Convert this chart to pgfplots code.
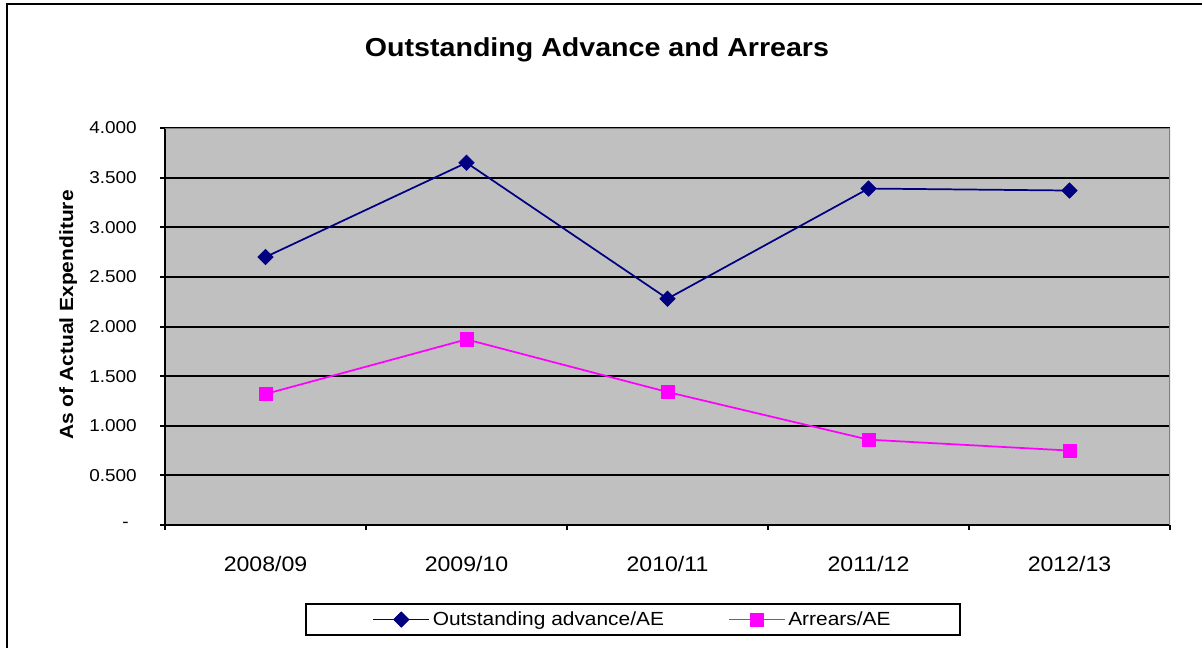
\documentclass[border=0pt]{standalone}
\usepackage{pgfplots}
\pgfplotsset{compat=1.18}
\usepackage{fontspec}
\setmainfont{Liberation Sans}[FakeStretch=1.1]
\definecolor{navyS}{RGB}{0,0,128}
\definecolor{magS}{RGB}{255,0,255}
\definecolor{plotbg}{RGB}{192,192,192}
\definecolor{frameg}{RGB}{128,128,128}
\begin{document}
\begin{tikzpicture}
\useasboundingbox (0,0) rectangle (901.5pt,485.25pt);
\draw[black,line width=1.5pt] (5.25pt,-10pt) -- (5.25pt,482.25pt) -- (920pt,482.25pt);
\node[font=\fontsize{19.5}{22}\selectfont\bfseries, anchor=base, inner sep=0pt] at (447.75pt,442.5pt) {Outstanding Advance and Arrears};
\node[font=\fontsize{14.3}{17}\selectfont\bfseries, rotate=90, anchor=base, inner sep=0pt] at (54.75pt,249pt) {As of Actual Expenditure};
\begin{axis}[
 at={(123.75pt,91.5pt)}, anchor=south west,
 scale only axis, width=753.75pt, height=297.75pt,
 xmin=-0.5, xmax=4.5, ymin=0, ymax=4,
 axis x line*=bottom, axis y line*=left,
 axis line style={black,line width=1.5pt},
 axis background/.style={fill=plotbg},
 xtick={-0.5,0.5,...,4.5}, x tick label as interval,
 xticklabels={2008/09,2009/10,2010/11,2011/12,2012/13},
 ytick={0,0.5,...,4},
 yticklabels={{-\hspace*{6pt}},0.500,1.000,1.500,2.000,2.500,3.000,3.500,4.000},
 ymajorgrids, grid style={black,line width=1.5pt},
 tick align=outside, major tick length=3.75pt,
 tick style={black,line width=1.5pt},
 xticklabel style={font=\fontsize{15.75}{18}\selectfont, yshift=-16pt},
 yticklabel style={font=\fontsize{12.9}{15}\selectfont, xshift=-14pt},
 legend columns=2,
 legend style={at={(0.4655,-0.2381)}, anchor=center, draw=black, line width=1.5pt,
   font=\fontsize{14.25}{17}\selectfont, inner xsep=50pt, inner ysep=4pt,
   /tikz/every even column/.append style={column sep=46pt}},
 legend image code/.code={\draw[line width=1.2pt, mark repeat=2,mark phase=2] plot coordinates {(0pt,0pt) (21pt,0pt) (42pt,0pt)};},
]
\draw[frameg, line width=1.5pt] (rel axis cs:0,1) -- (rel axis cs:1,1) -- (rel axis cs:1,0);
\addplot[navyS, line width=1.3pt, mark=square*, mark size=4.1pt, mark options={solid, rotate=45, line width=0.5pt}]
 coordinates {(0,2.70) (1,3.65) (2,2.28) (3,3.39) (4,3.37)};
\addlegendentry{Outstanding advance/AE}
\addplot[magS, line width=1.3pt, mark=square*, mark size=5pt, mark options={solid, line width=0.5pt}]
 coordinates {(0,1.32) (1,1.87) (2,1.34) (3,0.86) (4,0.75)};
\addlegendentry{Arrears/AE}
\end{axis}
\end{tikzpicture}
\end{document}
